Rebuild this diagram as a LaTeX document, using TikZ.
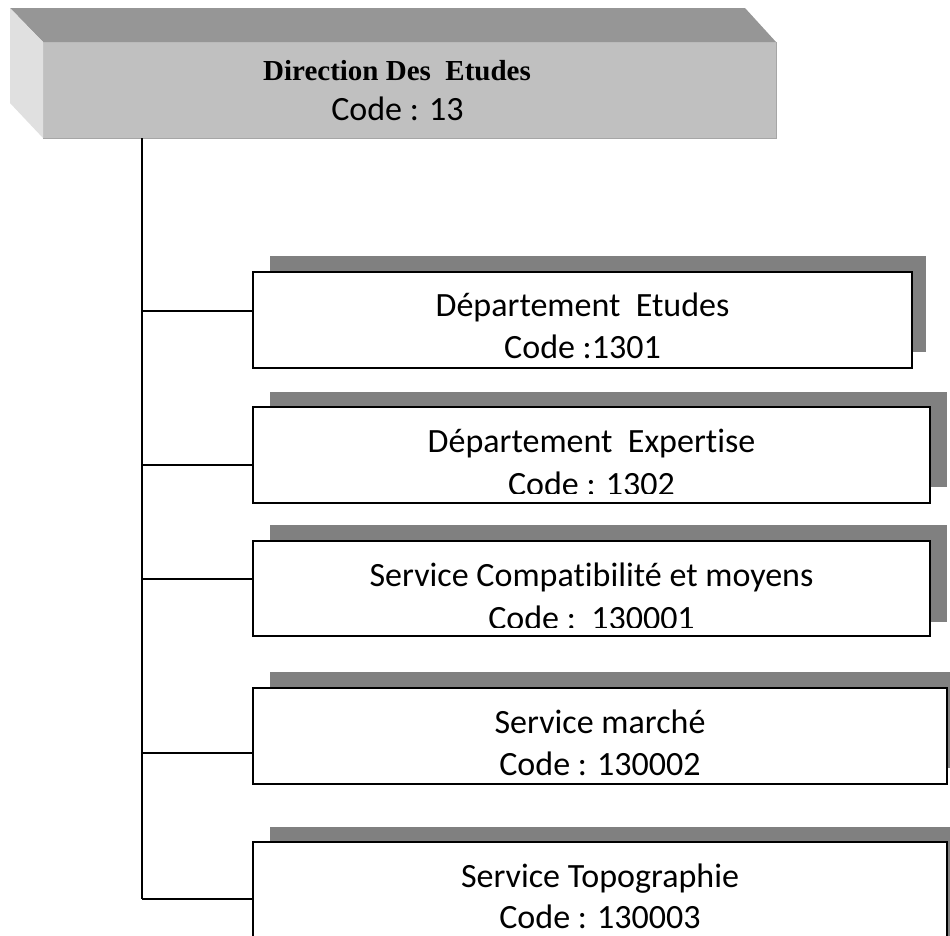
\documentclass[tikz,border=0pt]{standalone}
\usepackage{fontspec}
\setmainfont{Carlito}[Ligatures=NoCommon]
\newfontfamily\tnr{Liberation Serif}
\definecolor{topface}{HTML}{969696}
\definecolor{frontface}{HTML}{C0C0C0}
\definecolor{sideface}{HTML}{E0E0E0}
\definecolor{edgegray}{HTML}{A6A6A6}
\definecolor{shade}{HTML}{808080}
\tikzset{
  unitbox/.style={draw=black, line width=1.6pt, fill=white, inner sep=0pt, outer sep=0pt, anchor=north west},
  shadowbox/.style={fill=shade, draw=none, inner sep=0pt, outer sep=0pt, anchor=north west},
  frontbox/.style={fill=frontface, draw=none, inner sep=0pt, outer sep=0pt, anchor=north west},
  boxtext/.style={font=\fontsize{34}{41}\selectfont, inner sep=0pt, anchor=base},
  headtext/.style={font=\tnr\bfseries\fontsize{29}{35}\selectfont, inner sep=0pt, anchor=base},
  link/.style={draw=black, line width=1.5pt},
}
\begin{document}
\begin{tikzpicture}[x=1pt, y=-1pt]
\useasboundingbox (0,0) rectangle (950,935);
\fill[white] (0,0) rectangle (950,935);

% top 3D box
\node[frontbox, minimum width=733pt, minimum height=96pt] (top) at (43,42) {};
\fill[topface] (10,8) -- (745,8) -- (top.north east) -- (top.north west) -- cycle;
\fill[sideface] (10,8) -- (top.north west) -- (top.south west) -- (10,103) -- cycle;
\draw[edgegray, line width=1pt] (top.south west) -- (top.south east) -- (top.north east);
\node[headtext] (h1) at (397,80) {Direction Des\ \ Etudes};
\node[boxtext] (h2) at (397.5,120) {Code : 13};

% junction coordinates on the trunk
\coordinate (j1) at (142,311);
\coordinate (j2) at (142,465);
\coordinate (j3) at (142,579);
\coordinate (j4) at (142,753);
\coordinate (j5) at (142,899);

% shadows
\node[shadowbox, minimum width=656pt, minimum height=96pt] (s1) at (270,256) {};
\node[shadowbox, minimum width=677pt, minimum height=95pt] (s2) at (270,392) {};
\node[shadowbox, minimum width=677pt, minimum height=97pt] (s3) at (270,525) {};
\node[shadowbox, minimum width=700pt, minimum height=96pt] (s4) at (270,672) {};
\node[shadowbox, minimum width=700pt, minimum height=130pt] (s5) at (270,827) {};

% boxes
\node[unitbox, minimum width=659pt, minimum height=96pt] (b1) at (253,272) {};
\node[unitbox, minimum width=677pt, minimum height=96pt] (b2) at (253,407) {};
\node[unitbox, minimum width=677pt, minimum height=95pt] (b3) at (253,541) {};
\node[unitbox, minimum width=694pt, minimum height=96pt] (b4) at (253,688) {};
\node[unitbox, minimum width=694pt, minimum height=130pt] (b5) at (253,842) {};

% connectors
\draw[link] (top.south -| j1) -- (j5);
\draw[link] (j1) -- (j1 -| b1.west);
\draw[link] (j2) -- (j2 -| b2.west);
\draw[link] (j3) -- (j3 -| b3.west);
\draw[link] (j4) -- (j4 -| b4.west);
\draw[link] (j5) -- (j5 -| b5.west);

% texts
\node[boxtext] (t1a) at (582.5,316) {Département\ \ Etudes};
\node[boxtext] (t1b) at (582.5,358) {Code :1301};

\node[boxtext] (t2a) at (591.5,452) {Département\ \ Expertise};
\begin{scope}
  \clip (b2.north west) rectangle ([yshift=10pt]b2.south east);
  \node[boxtext] (t2b) at (591.5,495) {Code : 1302};
\end{scope}

\node[boxtext] (t3a) at (591.5,586) {Service Compatibilité et moyens};
\begin{scope}
  \clip (b3.north west) rectangle ([yshift=9pt]b3.south east);
  \node[boxtext] (t3b) at (591.5,629) {Code :\ \ 130001};
\end{scope}

\node[boxtext] (t4a) at (600,733) {Service marché};
\node[boxtext] (t4b) at (600,775) {Code : 130002};

\node[boxtext] (t5a) at (600,887) {Service Topographie};
\node[boxtext] (t5b) at (600,928) {Code : 130003};
\end{tikzpicture}
\end{document}
